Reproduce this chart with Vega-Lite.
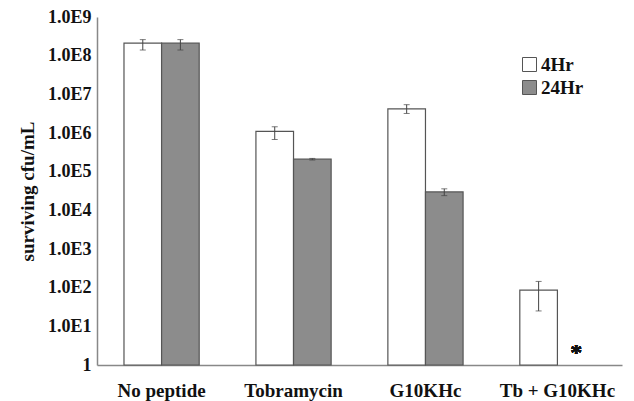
{
  "$schema": "https://vega.github.io/schema/vega-lite/v6.json",
  "autosize": "none",
  "width": 537,
  "height": 348,
  "padding": {"left": 97, "top": 17, "right": 0, "bottom": 36},
  "background": "white",
  "config": {"view": {"stroke": null}, "font": "Liberation Serif"},
  "data": {
    "values": [
      {"group": "No peptide", "time": "4Hr", "value": 210000000, "lo": 140000000, "hi": 260000000},
      {"group": "No peptide", "time": "24Hr", "value": 210000000, "lo": 140000000, "hi": 260000000},
      {"group": "Tobramycin", "time": "4Hr", "value": 1100000, "lo": 680000, "hi": 1450000},
      {"group": "Tobramycin", "time": "24Hr", "value": 210000, "lo": 200000, "hi": 220000},
      {"group": "G10KHc", "time": "4Hr", "value": 4200000, "lo": 3200000, "hi": 5400000},
      {"group": "G10KHc", "time": "24Hr", "value": 30000, "lo": 24000, "hi": 36000},
      {"group": "Tb + G10KHc", "time": "4Hr", "value": 86, "lo": 25, "hi": 145}
    ]
  },
  "encoding": {
    "x": {
      "field": "group", "type": "nominal",
      "sort": ["No peptide", "Tobramycin", "G10KHc", "Tb + G10KHc"],
      "scale": {"range": [0, 525], "paddingInner": 0.43, "paddingOuter": 0.2045},
      "axis": {"title": null, "labelAngle": 0, "ticks": false, "domainColor": "#888", "domainWidth": 1.5, "labelFont": "Liberation Serif", "labelFontSize": 19, "labelFontWeight": "bold", "labelColor": "#111", "labelPadding": 16}
    },
    "xOffset": {
      "field": "time", "type": "nominal",
      "scale": {"domain": ["4Hr", "24Hr"], "paddingInner": 0, "paddingOuter": 0}
    }
  },
  "layer": [
    {
      "mark": {"type": "bar", "stroke": "#555555", "strokeWidth": 1.2},
      "encoding": {
        "y": {
          "field": "value", "type": "quantitative",
          "scale": {"type": "log", "domain": [1, 1000000000], "nice": false},
          "axis": {
            "title": "surviving cfu/mL", "titleFont": "Liberation Serif", "titleFontSize": 19, "titleFontWeight": "bold", "titleColor": "#111", "titlePadding": 10,
            "values": [1, 10, 100, 1000, 10000, 100000, 1000000, 10000000, 100000000, 1000000000],
            "labelExpr": "datum.value == 1 ? '1' : '1.0E' + round(log(datum.value) / LN10)",
            "ticks": false, "grid": false, "domainColor": "#888", "domainWidth": 1.5,
            "labelFont": "Liberation Serif", "labelFontSize": 18, "labelFontWeight": "bold", "labelColor": "#111", "labelPadding": 6
          }
        },
        "y2": {"datum": 1},
        "color": {
          "field": "time", "type": "nominal",
          "scale": {"domain": ["4Hr", "24Hr"], "range": ["#ffffff", "#8c8c8c"]},
          "legend": {
            "title": null, "orient": "none", "legendX": 423, "legendY": 38,
            "symbolType": "square", "symbolSize": 196, "symbolStrokeColor": "#555", "symbolStrokeWidth": 1,
            "labelFont": "Liberation Serif", "labelFontSize": 19, "labelFontWeight": "bold", "labelColor": "#111", "labelOffset": 2, "rowPadding": 3
          }
        }
      }
    },
    {
      "mark": {"type": "rule", "color": "#444", "strokeWidth": 1},
      "encoding": {"y": {"field": "lo", "type": "quantitative"}, "y2": {"field": "hi"}}
    },
    {
      "mark": {"type": "tick", "color": "#444", "size": 6, "thickness": 1},
      "encoding": {"y": {"field": "lo", "type": "quantitative"}}
    },
    {
      "mark": {"type": "tick", "color": "#444", "size": 6, "thickness": 1},
      "encoding": {"y": {"field": "hi", "type": "quantitative"}}
    },
    {
      "mark": {"type": "text", "text": "*", "font": "Liberation Serif", "fontSize": 24, "fontWeight": "bold", "baseline": "middle", "color": "#111"},
      "encoding": {"x": {"datum": "Tb + G10KHc"}, "xOffset": {"datum": "24Hr"}, "y": {"datum": 2.1}}
    }
  ]
}
